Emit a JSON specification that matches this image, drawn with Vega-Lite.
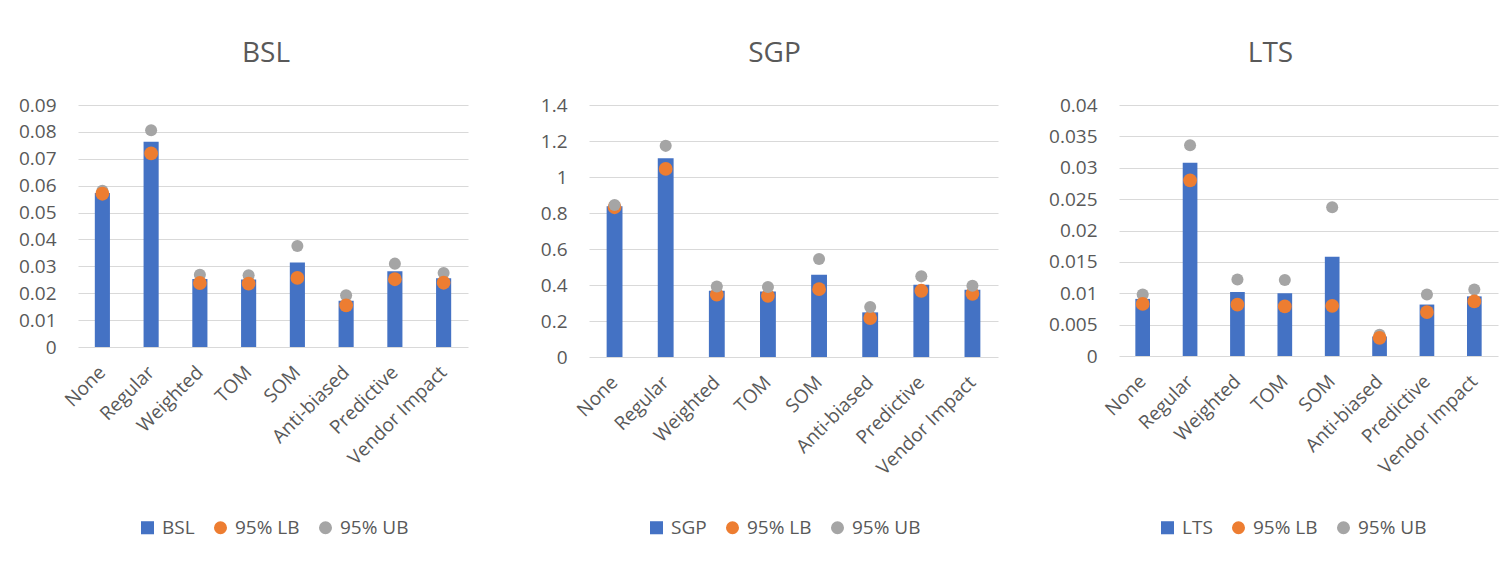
{
  "$schema": "https://vega.github.io/schema/vega-lite/v6.json",
  "background": "white",
  "padding": {"left": 7, "top": 40, "right": 5, "bottom": 5},
  "config": {
    "view": {"stroke": null},
    "font": "Open Sans",
    "axis": {"labelFont": "Open Sans", "labelColor": "#595959", "labelFontSize": 19, "domain": false, "ticks": false, "title": null},
    "legend": {"labelFont": "Open Sans", "labelColor": "#595959", "labelFontSize": 19},
    "title": {"font": "Open Sans", "fontSize": 28, "fontWeight": "normal", "color": "#595959", "frame": "group", "anchor": "middle", "offset": 28}
  },
  "data": {
    "values": [
      {"panel": "BSL", "method": "None", "series": "BSL", "kind": "est", "value": 0.0573},
      {"panel": "BSL", "method": "Regular", "series": "BSL", "kind": "est", "value": 0.0763},
      {"panel": "BSL", "method": "Weighted", "series": "BSL", "kind": "est", "value": 0.0253},
      {"panel": "BSL", "method": "TOM", "series": "BSL", "kind": "est", "value": 0.0251},
      {"panel": "BSL", "method": "SOM", "series": "BSL", "kind": "est", "value": 0.0314},
      {"panel": "BSL", "method": "Anti-biased", "series": "BSL", "kind": "est", "value": 0.0172},
      {"panel": "BSL", "method": "Predictive", "series": "BSL", "kind": "est", "value": 0.0282},
      {"panel": "BSL", "method": "Vendor Impact", "series": "BSL", "kind": "est", "value": 0.0256},
      {"panel": "BSL", "method": "None", "series": "95% UB", "kind": "ub", "value": 0.0581},
      {"panel": "BSL", "method": "Regular", "series": "95% UB", "kind": "ub", "value": 0.0806},
      {"panel": "BSL", "method": "Weighted", "series": "95% UB", "kind": "ub", "value": 0.0269},
      {"panel": "BSL", "method": "TOM", "series": "95% UB", "kind": "ub", "value": 0.0267},
      {"panel": "BSL", "method": "SOM", "series": "95% UB", "kind": "ub", "value": 0.0376},
      {"panel": "BSL", "method": "Anti-biased", "series": "95% UB", "kind": "ub", "value": 0.0192},
      {"panel": "BSL", "method": "Predictive", "series": "95% UB", "kind": "ub", "value": 0.0310},
      {"panel": "BSL", "method": "Vendor Impact", "series": "95% UB", "kind": "ub", "value": 0.0275},
      {"panel": "BSL", "method": "None", "series": "95% LB", "kind": "lb", "value": 0.0570},
      {"panel": "BSL", "method": "Regular", "series": "95% LB", "kind": "lb", "value": 0.0720},
      {"panel": "BSL", "method": "Weighted", "series": "95% LB", "kind": "lb", "value": 0.0238},
      {"panel": "BSL", "method": "TOM", "series": "95% LB", "kind": "lb", "value": 0.0236},
      {"panel": "BSL", "method": "SOM", "series": "95% LB", "kind": "lb", "value": 0.0257},
      {"panel": "BSL", "method": "Anti-biased", "series": "95% LB", "kind": "lb", "value": 0.0155},
      {"panel": "BSL", "method": "Predictive", "series": "95% LB", "kind": "lb", "value": 0.0252},
      {"panel": "BSL", "method": "Vendor Impact", "series": "95% LB", "kind": "lb", "value": 0.0239},

      {"panel": "SGP", "method": "None", "series": "SGP", "kind": "est", "value": 0.838},
      {"panel": "SGP", "method": "Regular", "series": "SGP", "kind": "est", "value": 1.104},
      {"panel": "SGP", "method": "Weighted", "series": "SGP", "kind": "est", "value": 0.368},
      {"panel": "SGP", "method": "TOM", "series": "SGP", "kind": "est", "value": 0.364},
      {"panel": "SGP", "method": "SOM", "series": "SGP", "kind": "est", "value": 0.457},
      {"panel": "SGP", "method": "Anti-biased", "series": "SGP", "kind": "est", "value": 0.248},
      {"panel": "SGP", "method": "Predictive", "series": "SGP", "kind": "est", "value": 0.401},
      {"panel": "SGP", "method": "Vendor Impact", "series": "SGP", "kind": "est", "value": 0.374},
      {"panel": "SGP", "method": "None", "series": "95% LB", "kind": "lb", "value": 0.832},
      {"panel": "SGP", "method": "Regular", "series": "95% LB", "kind": "lb", "value": 1.045},
      {"panel": "SGP", "method": "Weighted", "series": "95% LB", "kind": "lb", "value": 0.346},
      {"panel": "SGP", "method": "TOM", "series": "95% LB", "kind": "lb", "value": 0.340},
      {"panel": "SGP", "method": "SOM", "series": "95% LB", "kind": "lb", "value": 0.377},
      {"panel": "SGP", "method": "Anti-biased", "series": "95% LB", "kind": "lb", "value": 0.216},
      {"panel": "SGP", "method": "Predictive", "series": "95% LB", "kind": "lb", "value": 0.368},
      {"panel": "SGP", "method": "Vendor Impact", "series": "95% LB", "kind": "lb", "value": 0.351},
      {"panel": "SGP", "method": "None", "series": "95% UB", "kind": "ub", "value": 0.845},
      {"panel": "SGP", "method": "Regular", "series": "95% UB", "kind": "ub", "value": 1.173},
      {"panel": "SGP", "method": "Weighted", "series": "95% UB", "kind": "ub", "value": 0.392},
      {"panel": "SGP", "method": "TOM", "series": "95% UB", "kind": "ub", "value": 0.389},
      {"panel": "SGP", "method": "SOM", "series": "95% UB", "kind": "ub", "value": 0.544},
      {"panel": "SGP", "method": "Anti-biased", "series": "95% UB", "kind": "ub", "value": 0.278},
      {"panel": "SGP", "method": "Predictive", "series": "95% UB", "kind": "ub", "value": 0.448},
      {"panel": "SGP", "method": "Vendor Impact", "series": "95% UB", "kind": "ub", "value": 0.396},

      {"panel": "LTS", "method": "None", "series": "LTS", "kind": "est", "value": 0.0091},
      {"panel": "LTS", "method": "Regular", "series": "LTS", "kind": "est", "value": 0.0308},
      {"panel": "LTS", "method": "Weighted", "series": "LTS", "kind": "est", "value": 0.0102},
      {"panel": "LTS", "method": "TOM", "series": "LTS", "kind": "est", "value": 0.0100},
      {"panel": "LTS", "method": "SOM", "series": "LTS", "kind": "est", "value": 0.0158},
      {"panel": "LTS", "method": "Anti-biased", "series": "LTS", "kind": "est", "value": 0.0031},
      {"panel": "LTS", "method": "Predictive", "series": "LTS", "kind": "est", "value": 0.0082},
      {"panel": "LTS", "method": "Vendor Impact", "series": "LTS", "kind": "est", "value": 0.0095},
      {"panel": "LTS", "method": "None", "series": "95% UB", "kind": "ub", "value": 0.0098},
      {"panel": "LTS", "method": "Regular", "series": "95% UB", "kind": "ub", "value": 0.0336},
      {"panel": "LTS", "method": "Weighted", "series": "95% UB", "kind": "ub", "value": 0.0122},
      {"panel": "LTS", "method": "TOM", "series": "95% UB", "kind": "ub", "value": 0.0121},
      {"panel": "LTS", "method": "SOM", "series": "95% UB", "kind": "ub", "value": 0.0237},
      {"panel": "LTS", "method": "Anti-biased", "series": "95% UB", "kind": "ub", "value": 0.0034},
      {"panel": "LTS", "method": "Predictive", "series": "95% UB", "kind": "ub", "value": 0.0098},
      {"panel": "LTS", "method": "Vendor Impact", "series": "95% UB", "kind": "ub", "value": 0.0106},
      {"panel": "LTS", "method": "None", "series": "95% LB", "kind": "lb", "value": 0.0083},
      {"panel": "LTS", "method": "Regular", "series": "95% LB", "kind": "lb", "value": 0.0280},
      {"panel": "LTS", "method": "Weighted", "series": "95% LB", "kind": "lb", "value": 0.0082},
      {"panel": "LTS", "method": "TOM", "series": "95% LB", "kind": "lb", "value": 0.0079},
      {"panel": "LTS", "method": "SOM", "series": "95% LB", "kind": "lb", "value": 0.0080},
      {"panel": "LTS", "method": "Anti-biased", "series": "95% LB", "kind": "lb", "value": 0.0029},
      {"panel": "LTS", "method": "Predictive", "series": "95% LB", "kind": "lb", "value": 0.0070},
      {"panel": "LTS", "method": "Vendor Impact", "series": "95% LB", "kind": "lb", "value": 0.0087}
    ]
  },
  "spacing": 50,
  "align": "none",
  "hconcat": [
    {
      "width": 390, "height": 242,
      "title": {"text": "BSL", "dx": -7},
      "transform": [{"filter": "datum.panel === 'BSL'"}],
      "encoding": {
        "x": {"field": "method", "type": "nominal", "sort": ["None", "Regular", "Weighted", "TOM", "SOM", "Anti-biased", "Predictive", "Vendor Impact"], "scale": {"paddingInner": 0, "paddingOuter": 0}, "axis": {"labelAngle": -45, "labelAlign": "right", "labelBaseline": "middle", "labelPadding": 22}},
        "y": {"field": "value", "type": "quantitative", "scale": {"domain": [0, 0.09], "nice": false}, "axis": {"values": [0, 0.01, 0.02, 0.03, 0.04, 0.05, 0.06, 0.07, 0.08, 0.09], "format": "~g", "gridColor": "#D9D9D9", "labelPadding": 22, "minExtent": 71}},
        "color": {"field": "series", "type": "nominal", "scale": {"domain": ["BSL", "95% LB", "95% UB"], "range": ["#4472C4", "#ED7D31", "#A5A5A5"]}, "legend": {"title": null, "orient": "none", "legendX": 60, "legendY": 413, "direction": "horizontal", "symbolSize": 170, "columnPadding": 16, "labelOffset": 5, "symbolStrokeWidth": 0}}
      },
      "layer": [
        {"transform": [{"filter": "datum.kind === 'est'"}], "mark": {"type": "bar", "width": {"band": 0.31}}},
        {"transform": [{"filter": "datum.kind !== 'est'"}], "mark": {"type": "point", "filled": true, "opacity": 1, "strokeWidth": 0},
         "encoding": {
           "shape": {"field": "series", "type": "nominal", "scale": {"domain": ["BSL", "95% LB", "95% UB"], "range": ["square", "circle", "circle"]}, "legend": {"title": null, "orient": "none", "legendX": 60, "legendY": 413, "direction": "horizontal", "symbolSize": 170, "columnPadding": 16, "labelOffset": 5, "symbolStrokeWidth": 0}},
           "size": {"field": "series", "type": "nominal", "scale": {"domain": ["95% LB", "95% UB"], "range": [190, 145]}, "legend": null}
         }}
      ]
    },
    {
      "width": 409, "height": 252,
      "title": {"text": "SGP", "dx": -19},
      "transform": [{"filter": "datum.panel === 'SGP'"}],
      "encoding": {
        "x": {"field": "method", "type": "nominal", "sort": ["None", "Regular", "Weighted", "TOM", "SOM", "Anti-biased", "Predictive", "Vendor Impact"], "scale": {"paddingInner": 0, "paddingOuter": 0}, "axis": {"labelAngle": -45, "labelAlign": "right", "labelBaseline": "middle", "labelPadding": 22}},
        "y": {"field": "value", "type": "quantitative", "scale": {"domain": [0, 1.4], "nice": false}, "axis": {"values": [0, 0.2, 0.4, 0.6, 0.8, 1, 1.2, 1.4], "format": "~g", "gridColor": "#D9D9D9", "labelPadding": 22, "minExtent": 71}},
        "color": {"field": "series", "type": "nominal", "scale": {"domain": ["SGP", "95% LB", "95% UB"], "range": ["#4472C4", "#ED7D31", "#A5A5A5"]}, "legend": {"title": null, "orient": "none", "legendX": 58, "legendY": 413, "direction": "horizontal", "symbolSize": 170, "columnPadding": 16, "labelOffset": 5, "symbolStrokeWidth": 0}}
      },
      "layer": [
        {"transform": [{"filter": "datum.kind === 'est'"}], "mark": {"type": "bar", "width": {"band": 0.31}}},
        {"transform": [{"filter": "datum.kind !== 'est'"}], "mark": {"type": "point", "filled": true, "opacity": 1, "strokeWidth": 0},
         "encoding": {
           "shape": {"field": "series", "type": "nominal", "scale": {"domain": ["SGP", "95% LB", "95% UB"], "range": ["square", "circle", "circle"]}, "legend": {"title": null, "orient": "none", "legendX": 58, "legendY": 413, "direction": "horizontal", "symbolSize": 170, "columnPadding": 16, "labelOffset": 5, "symbolStrokeWidth": 0}},
           "size": {"field": "series", "type": "nominal", "scale": {"domain": ["95% LB", "95% UB"], "range": [190, 145]}, "legend": null}
         }}
      ]
    },
    {
      "width": 379, "height": 251,
      "title": {"text": "LTS", "dx": -38},
      "transform": [{"filter": "datum.panel === 'LTS'"}],
      "encoding": {
        "x": {"field": "method", "type": "nominal", "sort": ["None", "Regular", "Weighted", "TOM", "SOM", "Anti-biased", "Predictive", "Vendor Impact"], "scale": {"paddingInner": 0, "paddingOuter": 0}, "axis": {"labelAngle": -45, "labelAlign": "right", "labelBaseline": "middle", "labelPadding": 22}},
        "y": {"field": "value", "type": "quantitative", "scale": {"domain": [0, 0.04], "nice": false}, "axis": {"values": [0, 0.005, 0.01, 0.015, 0.02, 0.025, 0.03, 0.035, 0.04], "format": "~g", "gridColor": "#D9D9D9", "labelPadding": 22, "minExtent": 71}},
        "color": {"field": "series", "type": "nominal", "scale": {"domain": ["LTS", "95% LB", "95% UB"], "range": ["#4472C4", "#ED7D31", "#A5A5A5"]}, "legend": {"title": null, "orient": "none", "legendX": 39, "legendY": 413, "direction": "horizontal", "symbolSize": 170, "columnPadding": 16, "labelOffset": 5, "symbolStrokeWidth": 0}}
      },
      "layer": [
        {"transform": [{"filter": "datum.kind === 'est'"}], "mark": {"type": "bar", "width": {"band": 0.31}}},
        {"transform": [{"filter": "datum.kind !== 'est'"}], "mark": {"type": "point", "filled": true, "opacity": 1, "strokeWidth": 0},
         "encoding": {
           "shape": {"field": "series", "type": "nominal", "scale": {"domain": ["LTS", "95% LB", "95% UB"], "range": ["square", "circle", "circle"]}, "legend": {"title": null, "orient": "none", "legendX": 39, "legendY": 413, "direction": "horizontal", "symbolSize": 170, "columnPadding": 16, "labelOffset": 5, "symbolStrokeWidth": 0}},
           "size": {"field": "series", "type": "nominal", "scale": {"domain": ["95% LB", "95% UB"], "range": [190, 145]}, "legend": null}
         }}
      ]
    }
  ],
  "resolve": {
    "scale": {"color": "independent", "shape": "independent", "size": "independent", "y": "independent", "x": "independent"},
    "legend": {"color": "independent", "shape": "independent", "size": "independent"}
  }
}
